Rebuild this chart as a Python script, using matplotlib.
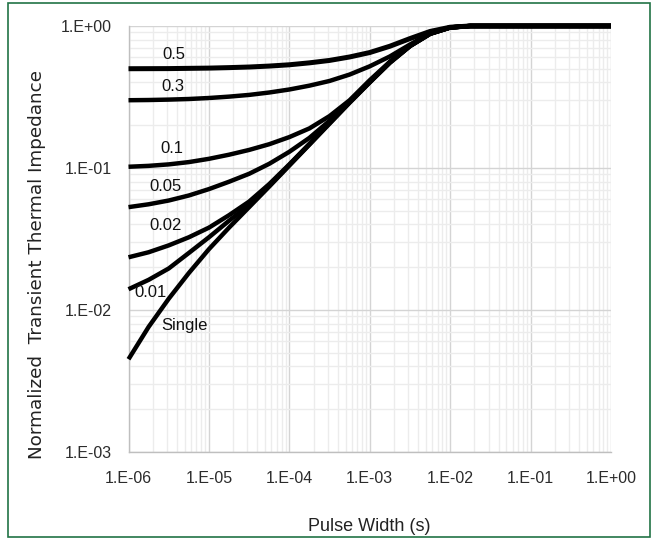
import matplotlib
matplotlib.use("Agg")
import matplotlib.pyplot as plt
from matplotlib.patches import Rectangle
from matplotlib.ticker import LogLocator, NullFormatter

# pulse width, log10 of seconds
log_t = [-6, -5.75, -5.5, -5.25, -5, -4.75, -4.5, -4.25, -4, -3.75,
         -3.5, -3.25, -3, -2.75, -2.5, -2.25, -2, -1.75, -1.5, -1, -0.5, 0]

# normalized Zth for each duty cycle
z_05 = [0.50, 0.5005, 0.501, 0.503, 0.505, 0.509, 0.514, 0.522, 0.533, 0.55,
        0.572, 0.605, 0.65, 0.72, 0.815, 0.915, 0.98, 1.0, 1.0, 1.0, 1.0, 1.0]
z_03 = [0.30, 0.301, 0.303, 0.306, 0.311, 0.318, 0.327, 0.34, 0.357, 0.38,
        0.41, 0.455, 0.52, 0.61, 0.74, 0.885, 0.977, 1.0, 1.0, 1.0, 1.0, 1.0]
z_01 = [0.102, 0.1035, 0.106, 0.11, 0.116, 0.124, 0.134, 0.147, 0.165, 0.19,
        0.232, 0.30, 0.415, 0.56, 0.728, 0.885, 0.977, 1.0, 1.0, 1.0, 1.0, 1.0]
z_005 = [0.053, 0.0555, 0.059, 0.064, 0.071, 0.08, 0.091, 0.107, 0.13, 0.163,
         0.215, 0.295, 0.405, 0.556, 0.725, 0.883, 0.976, 1.0, 1.0, 1.0, 1.0, 1.0]
z_002 = [0.0235, 0.0255, 0.0285, 0.0325, 0.038, 0.0465, 0.058, 0.077, 0.106, 0.148,
         0.21, 0.292, 0.404, 0.555, 0.724, 0.882, 0.976, 1.0, 1.0, 1.0, 1.0, 1.0]
z_001 = [0.014, 0.0163, 0.0196, 0.0252, 0.0325, 0.0425, 0.055, 0.075, 0.105, 0.147,
         0.207, 0.29, 0.402, 0.552, 0.722, 0.88, 0.975, 1.0, 1.0, 1.0, 1.0, 1.0]
z_single = [0.0045, 0.0076, 0.012, 0.0182, 0.0268, 0.038, 0.053, 0.074, 0.104, 0.146,
            0.205, 0.288, 0.40, 0.55, 0.72, 0.88, 0.975, 1.0, 1.0, 1.0, 1.0, 1.0]

curves = [z_05, z_03, z_01, z_005, z_002, z_001, z_single]
labels = ["0.5", "0.3", "0.1", "0.05", "0.02", "0.01", "Single"]
label_x = [3.7e-6, 3.6e-6, 3.5e-6, 2.85e-6, 2.85e-6, 1.9e-6, 4.9e-6]
label_y = [0.625, 0.372, 0.138, 0.0735, 0.0394, 0.0132, 0.0078]

xticks = [1e-6, 1e-5, 1e-4, 1e-3, 1e-2, 1e-1, 1e0]
xticklabels = ["1.E-06", "1.E-05", "1.E-04", "1.E-03", "1.E-02", "1.E-01", "1.E+00"]
yticks = [1e-3, 1e-2, 1e-1, 1e0]
yticklabels = ["1.E-03", "1.E-02", "1.E-01", "1.E+00"]

plt.rcParams['font.family'] = ['Liberation Sans', 'DejaVu Sans']

fig = plt.figure(figsize=(6.55, 5.4), dpi=100)
ax = fig.add_axes([0.1962, 0.163, 0.7366, 0.7889])

t = [10 ** v for v in log_t]
for i, z in enumerate(curves):
    lw = 3.6 if i == 0 else 3.2
    ax.plot(t, z, color="black", lw=lw, clip_on=False, zorder=3,
            solid_capstyle="butt", solid_joinstyle="round")
    ax.text(label_x[i], label_y[i], labels[i], fontsize=12, ha="center",
            va="center", color="#111111", zorder=4)

ax.set_xscale("log")
ax.set_yscale("log")
ax.set_xlim(1e-6, 1)
ax.set_ylim(1e-3, 1)
ax.set_xticks(xticks)
ax.set_xticklabels(xticklabels)
ax.set_yticks(yticks)
ax.set_yticklabels(yticklabels)
ax.xaxis.set_minor_locator(LogLocator(base=10, subs=range(2, 10), numticks=20))
ax.yaxis.set_minor_locator(LogLocator(base=10, subs=range(2, 10), numticks=20))
ax.xaxis.set_minor_formatter(NullFormatter())
ax.yaxis.set_minor_formatter(NullFormatter())
ax.tick_params(which="both", length=0)
ax.tick_params(axis="x", pad=14, labelsize=11.5, colors="#2b2b2b")
ax.tick_params(axis="y", pad=12, labelsize=11.5, colors="#2b2b2b")
ax.grid(which="major", color="#d4d4d4", lw=1.0)
ax.grid(which="minor", color="#ececec", lw=1.0)
ax.set_axisbelow(True)
for s in ["top", "right"]:
    ax.spines[s].set_visible(False)
for s in ["left", "bottom"]:
    ax.spines[s].set_color("#bfbfbf")
    ax.spines[s].set_linewidth(1.0)

ax.set_xlabel("Pulse Width (s)", fontsize=13, color="#222222")
ax.set_ylabel("Normalized  Transient Thermal Impedance", fontsize=13.2,
              family="DejaVu Sans", color="#222222")
ax.yaxis.set_label_coords(-0.172, 0.44)
ax.xaxis.set_label_coords(0.5, -0.155)

fig.patches.append(Rectangle((8 / 655, 3 / 540), 642 / 655, 534 / 540,
                             transform=fig.transFigure, fill=False,
                             edgecolor="#217346", lw=1.2))

fig.savefig("out.png", dpi=100)
